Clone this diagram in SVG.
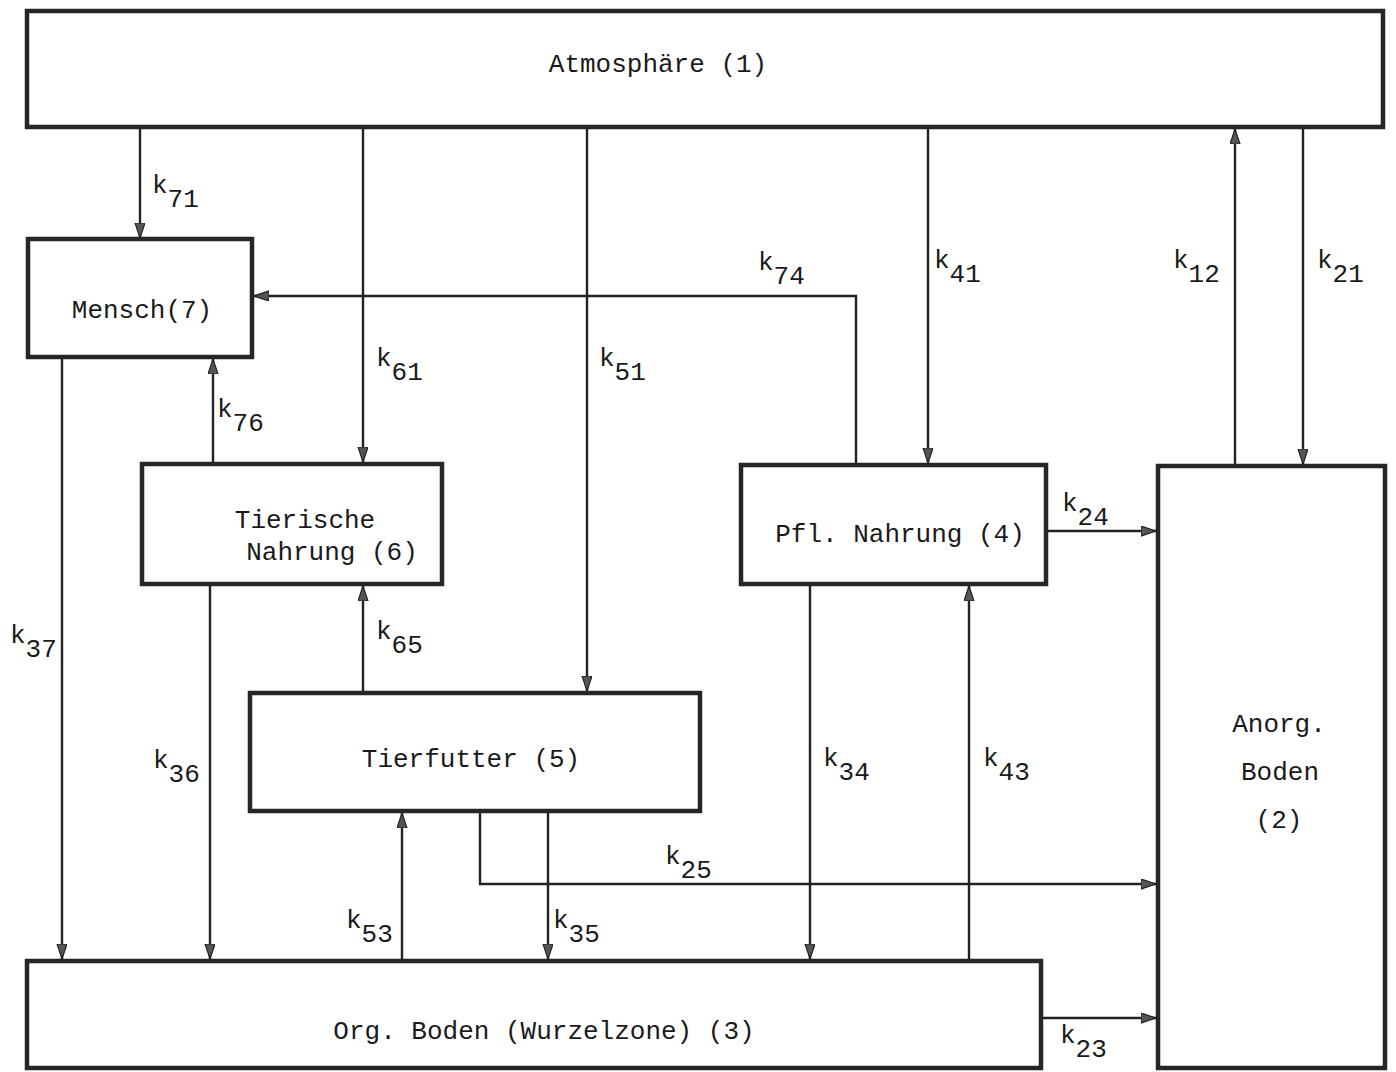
<svg xmlns="http://www.w3.org/2000/svg" width="1396" height="1072" viewBox="0 0 1396 1072">
<style>
.box{fill:#fff;stroke:#262626;stroke-width:4.5}
.lbl{font-family:"Liberation Mono","DejaVu Sans Mono",monospace;font-size:26px;fill:#1a1a1a;text-anchor:middle}
.k{font-family:"Liberation Mono","DejaVu Sans Mono",monospace;font-size:26px;fill:#1a1a1a}
.c{fill:none;stroke:#222;stroke-width:2.4}
.ca{fill:none;stroke:#222;stroke-width:2.4;marker-end:url(#ah)}
</style>
<defs>
<marker id="ah" markerUnits="userSpaceOnUse" markerWidth="16" markerHeight="12" refX="15" refY="5" orient="auto">
<path d="M0,0 L15,5 L0,10 z" fill="#555" stroke="#222" stroke-width="1.2"/>
</marker>
</defs>
<rect width="1396" height="1072" fill="#fff"/>

<g id="connectors">
<path class="ca" d="M140,127 V238"/>
<path class="ca" d="M363,127 V462"/>
<path class="ca" d="M587,127 V691"/>
<path class="ca" d="M928,127 V463"/>
<path class="ca" d="M1235,466 V129"/>
<path class="ca" d="M1303,127 V464"/>
<path class="ca" d="M856,465 V296 H254"/>
<path class="ca" d="M213,464 V359"/>
<path class="ca" d="M363,693 V586"/>
<path class="ca" d="M62,357 V959"/>
<path class="ca" d="M210,584 V959"/>
<path class="ca" d="M402,961 V813"/>
<path class="ca" d="M548,811 V959"/>
<path class="ca" d="M480,811 V884 H1156"/>
<path class="ca" d="M810,584 V959"/>
<path class="ca" d="M969,961 V586"/>
<path class="ca" d="M1046,531 H1156"/>
<path class="ca" d="M1041,1018 H1156"/>
<text class="k" x="152" y="193">k<tspan dy="14">71</tspan></text>
<text class="k" x="758" y="270">k<tspan dy="14">74</tspan></text>
<text class="k" x="934" y="268">k<tspan dy="14">41</tspan></text>
<text class="k" x="1173" y="268">k<tspan dy="14">12</tspan></text>
<text class="k" x="1317" y="268">k<tspan dy="14">21</tspan></text>
<text class="k" x="376" y="366">k<tspan dy="14">61</tspan></text>
<text class="k" x="599" y="366">k<tspan dy="14">51</tspan></text>
<text class="k" x="217" y="417">k<tspan dy="14">76</tspan></text>
<text class="k" x="10" y="643">k<tspan dy="14">37</tspan></text>
<text class="k" x="376" y="639">k<tspan dy="14">65</tspan></text>
<text class="k" x="153" y="768">k<tspan dy="14">36</tspan></text>
<text class="k" x="823" y="766">k<tspan dy="14">34</tspan></text>
<text class="k" x="983" y="766">k<tspan dy="14">43</tspan></text>
<text class="k" x="665" y="864">k<tspan dy="14">25</tspan></text>
<text class="k" x="346" y="928">k<tspan dy="14">53</tspan></text>
<text class="k" x="553" y="928">k<tspan dy="14">35</tspan></text>
<text class="k" x="1062" y="511">k<tspan dy="14">24</tspan></text>
<text class="k" x="1060" y="1043">k<tspan dy="14">23</tspan></text>
</g>

<g id="n1">
<rect class="box" x="27" y="11" width="1356" height="116"/>
<text class="lbl" x="658" y="72">Atmosphäre (1)</text>
</g>
<g id="n7">
<rect class="box" x="28" y="239" width="224" height="118"/>
<text class="lbl" x="142" y="318">Mensch(7)</text>
</g>
<g id="n6">
<rect class="box" x="142" y="464" width="300" height="120"/>
<text class="lbl" x="305" y="528">Tierische</text>
<text class="lbl" x="332" y="560">Nahrung (6)</text>
</g>
<g id="n5">
<rect class="box" x="250" y="693" width="450" height="118"/>
<text class="lbl" x="471" y="767">Tierfutter (5)</text>
</g>
<g id="n4">
<rect class="box" x="741" y="465" width="305" height="119"/>
<text class="lbl" x="900" y="542">Pfl. Nahrung (4)</text>
</g>
<g id="n2">
<rect class="box" x="1158" y="466" width="227" height="602"/>
<text class="lbl" x="1279" y="732">Anorg.</text>
<text class="lbl" x="1280" y="780">Boden</text>
<text class="lbl" x="1279" y="828">(2)</text>
</g>
<g id="n3">
<rect class="box" x="27" y="961" width="1014" height="107"/>
<text class="lbl" x="544" y="1039">Org. Boden (Wurzelzone) (3)</text>
</g>
</svg>
